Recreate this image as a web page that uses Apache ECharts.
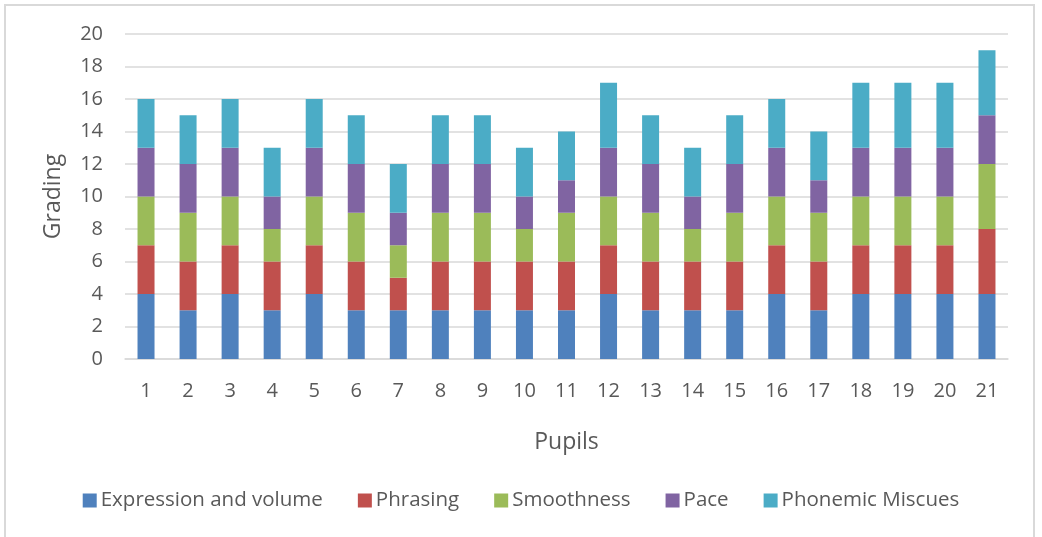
<!DOCTYPE html>
<html>
<head>
<meta charset="utf-8">
<script src="https://cdn.jsdelivr.net/npm/echarts@6/dist/echarts.min.js"></script>
<style>
  html, body { margin: 0; padding: 0; background: #fff; }
  #frame { position: absolute; left: 4px; top: 4px; width: 1031px; height: 540px; border: 2px solid #d9d9d9; box-sizing: border-box; }
  #chart { position: absolute; left: 0; top: 0; width: 1042px; height: 537px; }
</style>
</head>
<body>
<div id="frame"></div>
<div id="chart"></div>
<script>
const pupils = ['1','2','3','4','5','6','7','8','9','10','11','12','13','14','15','16','17','18','19','20','21'];
const expressionAndVolume = [4,3,4,3,4,3,3,3,3,3,3,4,3,3,3,4,3,4,4,4,4];
const phrasing            = [3,3,3,3,3,3,2,3,3,3,3,3,3,3,3,3,3,3,3,3,4];
const smoothness          = [3,3,3,2,3,3,2,3,3,2,3,3,3,2,3,3,3,3,3,3,4];
const pace                = [3,3,3,2,3,3,2,3,3,2,2,3,3,2,3,3,2,3,3,3,3];
const phonemicMiscues     = [3,3,3,3,3,3,3,3,3,3,3,4,3,3,3,3,3,4,4,4,4];

const font = '"Open Sans", Lato, sans-serif';
const textColor = '#595959';

function stack(name, data, color) {
  return {
    name: name, type: 'bar', stack: 'total', data: data,
    barWidth: 17,
    itemStyle: { color: color },
    emphasis: { disabled: true }
  };
}

const chart = echarts.init(document.getElementById('chart'));
chart.setOption({
  animation: false,
  grid: { left: 125, right: 34, top: 34, bottom: 178, containLabel: false },
  legend: {
    bottom: 21, left: 'center',
    itemWidth: 14, itemHeight: 14, itemGap: 35,
    icon: 'rect',
    textStyle: { color: textColor, fontSize: 20.5, fontFamily: font, padding: [0, 0, 0, -1] }
  },
  xAxis: {
    type: 'category', data: pupils,
    name: 'Pupils', nameLocation: 'middle', nameGap: 72,
    nameTextStyle: { color: textColor, fontSize: 23, fontFamily: font },
    axisLine: { lineStyle: { color: '#d9d9d9', width: 1.5 } },
    axisTick: { show: false },
    axisLabel: { color: textColor, fontSize: 20, fontFamily: font, margin: 22 }
  },
  yAxis: {
    type: 'value', min: 0, max: 20, interval: 2,
    name: 'Grading', nameLocation: 'middle', nameGap: 60, nameRotate: 90,
    nameTextStyle: { color: textColor, fontSize: 23, fontFamily: font },
    axisLine: { show: false }, axisTick: { show: false },
    splitLine: { lineStyle: { color: '#d9d9d9', width: 1.5 } },
    axisLabel: { color: textColor, fontSize: 20, fontFamily: font, margin: 22 }
  },
  series: [
    stack('Expression and volume', expressionAndVolume, '#4f81bd'),
    stack('Phrasing', phrasing, '#c0504d'),
    stack('Smoothness', smoothness, '#9bbb59'),
    stack('Pace', pace, '#8064a2'),
    stack('Phonemic Miscues', phonemicMiscues, '#4bacc6')
  ]
});
</script>
</body>
</html>
